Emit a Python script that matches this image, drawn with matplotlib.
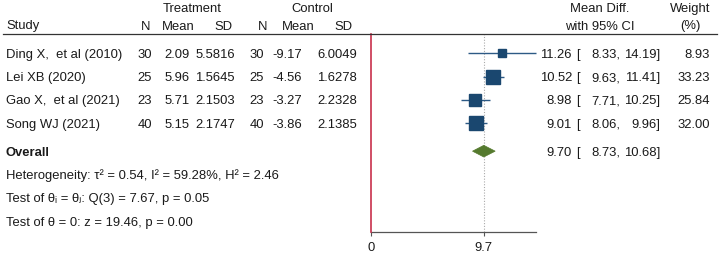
import matplotlib
matplotlib.use("Agg")
import matplotlib.pyplot as plt
import matplotlib.transforms as mtrans
from matplotlib.lines import Line2D
from matplotlib.patches import Polygon
import numpy as np

# ---------------- data ----------------
studies = ["Ding X,  et al (2010)", "Lei XB (2020)", "Gao X,  et al (2021)", "Song WJ (2021)"]
n_trt = [30, 25, 23, 40]
mean_trt = ["2.09", "5.96", "5.71", "5.15"]
sd_trt = ["5.5816", "1.5645", "2.1503", "2.1747"]
n_ctl = [30, 25, 23, 40]
mean_ctl = ["-9.17", "-4.56", "-3.27", "-3.86"]
sd_ctl = ["6.0049", "1.6278", "2.2328", "2.1385"]
md = [11.26, 10.52, 8.98, 9.01]
ci_lo = [8.33, 9.63, 7.71, 8.06]
ci_hi = [14.19, 11.41, 10.25, 9.96]
weight = [8.93, 33.23, 25.84, 32.00]
overall = (9.70, 8.73, 10.68)
stat_lines = ["Heterogeneity: τ² = 0.54, I² = 59.28%, H² = 2.46",
              "Test of θᵢ = θⱼ: Q(3) = 7.67, p = 0.05",
              "Test of θ = 0: z = 19.46, p = 0.00"]
xticks = [0, 9.7]
xticklabels = ["0", "9.7"]

# ---------------- style ----------------
W, H = 720, 254
FONT = ["Liberation Sans", "DejaVu Sans"]
plt.rcParams["font.family"] = FONT
FS = 9.35
NAVY = "#1a476f"
GREEN = "#557a2e"
RED = "#c8304c"
TXT = "#1a1a1a"

fig = plt.figure(figsize=(W / 100, H / 100), dpi=100)

# forest axes in pixel placement
x0, x1 = 371, 536
ytop, ybot = 33.5, 232
ax = fig.add_axes([x0 / W, (H - ybot) / H, (x1 - x0) / W, (ybot - ytop) / H])
row_h = 23.3
row0 = 53.3
ax.set_ylim((ybot - row0) / row_h, (ytop - row0) / row_h)
ax.set_xlim(0, max(ci_hi))
for s in ["top", "right", "left"]:
    ax.spines[s].set_visible(False)
ax.spines["bottom"].set_color("#555555")
ax.spines["bottom"].set_linewidth(0.9)
ax.set_yticks([])
ax.set_xticks(xticks)
ax.set_xticklabels(xticklabels, fontsize=FS, color=TXT)
ax.tick_params(axis="x", length=3, width=0.8, color="#555555", pad=4)
ax.patch.set_alpha(0)

ax.axvline(0, color=RED, lw=1.2, zorder=4, clip_on=False)
ax.axvline(overall[0], color="#aaaaaa", lw=0.8, ls=(0, (1, 1.5)), zorder=1)

ys = np.arange(len(studies))
for i in range(len(studies)):
    ax.hlines(ys[i], ci_lo[i], ci_hi[i], color="#2d5a85", lw=1.0, zorder=2,
              clip_on=False)
    side_px = 2.5 * np.sqrt(weight[i])
    ax.plot(md[i], ys[i], marker="s", ms=side_px / 1.389, color=NAVY,
            mec=NAVY, zorder=3)

y_ov = 4.2
hh = 0.25
diamond = Polygon([(overall[1], y_ov), (overall[0], y_ov - hh),
                   (overall[2], y_ov), (overall[0], y_ov + hh)],
                  closed=True, facecolor=GREEN, edgecolor=GREEN, lw=0.5, zorder=3)
ax.add_patch(diamond)

# text transform: x in figure pixels, y in forest-axes rows
px = mtrans.Affine2D().scale(1 / W, 1) + fig.transFigure
tr = mtrans.blended_transform_factory(px, ax.transData)


def t(x, y, s, ha="left", **kw):
    fig.text(x, y, s, transform=tr, ha=ha, va="center_baseline", fontsize=FS,
             color=TXT, clip_on=False, **kw)


yh1 = (7.3 - row0) / row_h
yh2 = (25.0 - row0) / row_h
t(192.5, yh1, "Treatment", ha="center")
t(312, yh1, "Control", ha="center")
t(6, yh2, "Study")
t(150, yh2, "N", ha="right")
t(195, yh2, "Mean", ha="right")
t(233, yh2, "SD", ha="right")
t(267, yh2, "N", ha="right")
t(315, yh2, "Mean", ha="right")
t(353, yh2, "SD", ha="right")
t(600, yh1, "Mean Diff.", ha="center")
t(600, yh2, "with 95% CI", ha="center")
t(690, yh1, "Weight", ha="center")
t(690, yh2, "(%)", ha="center")

fig.add_artist(Line2D([3, 717], [ax.get_ylim()[1]] * 2, transform=tr,
                      color="#333333", lw=0.9))

for i in range(len(studies)):
    y = ys[i]
    t(6, y, studies[i])
    t(152, y, str(n_trt[i]), ha="right")
    t(190, y, mean_trt[i], ha="right")
    t(235, y, sd_trt[i], ha="right")
    t(264, y, str(n_ctl[i]), ha="right")
    t(302, y, mean_ctl[i], ha="right")
    t(357, y, sd_ctl[i], ha="right")
    t(572, y, f"{md[i]:.2f}", ha="right")
    t(576, y, "[")
    t(620, y, f"{ci_lo[i]:.2f},", ha="right")
    t(660, y, f"{ci_hi[i]:.2f}]", ha="right")
    t(710, y, f"{weight[i]:.2f}", ha="right")

t(6, y_ov, "Overall", fontweight="bold")
t(572, y_ov, f"{overall[0]:.2f}", ha="right")
t(576, y_ov, "[")
t(620, y_ov, f"{overall[1]:.2f},", ha="right")
t(660, y_ov, f"{overall[2]:.2f}]", ha="right")

for k, s in enumerate(stat_lines):
    t(6, y_ov + 1.0 + k, s)

fig.savefig("out.png", dpi=100)
